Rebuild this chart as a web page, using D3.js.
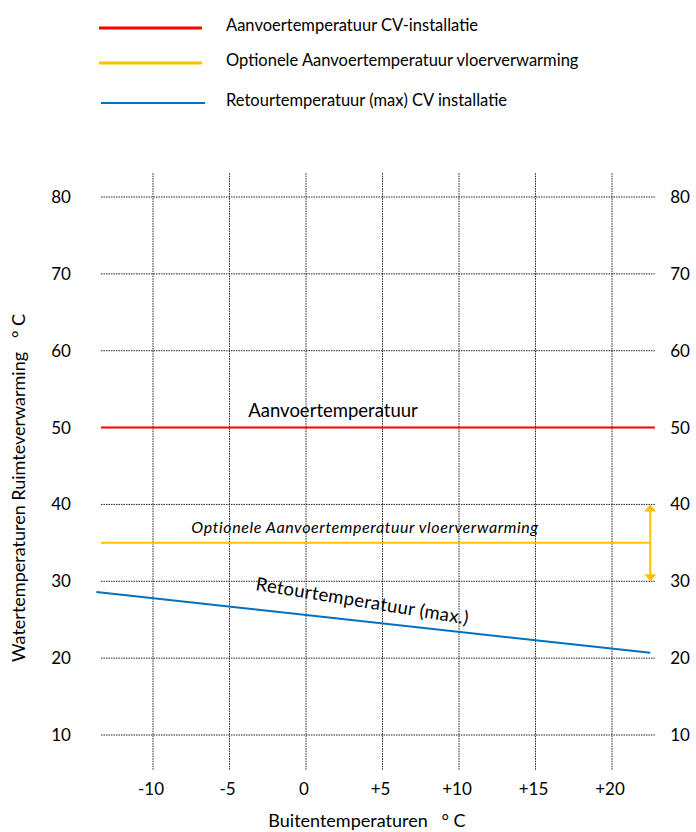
<!DOCTYPE html>
<html><head><meta charset="utf-8">
<script src="https://cdn.jsdelivr.net/npm/d3@7"></script>
<style>body{margin:0;background:#fff;} svg{display:block;font-family:Lato,"Noto Sans",sans-serif;}</style>
</head><body>
<svg id="c" width="696" height="832"></svg>
<script>
const xTicks = [-10, -5, 0, 5, 10, 15, 20];
const xTickLabels = ["-10", "-5", "0", "+5", "+10", "+15", "+20"];
const yTicks = [10, 20, 30, 40, 50, 60, 70, 80];
const xExtent = [-13.4, 22.8];
const yExtent = [5.4, 83.1];
const aanvoerX = [-13.4, 22.8];
const aanvoerY = [50, 50];
const vloerX = [-13.4, 22.5];
const vloerY = [35, 35];
const vloerRange = [30, 40];
const retourX = [-13.7, 22.5];
const retourY = [28.6, 20.7];
const legendLabels = ["Aanvoertemperatuur CV-installatie", "Optionele Aanvoertemperatuur vloerverwarming", "Retourtemperatuur (max) CV installatie"];
const legendColors = ["#ff0000", "#ffc000", "#0070c0"];

const svg = d3.select("#c");
const x = d3.scaleLinear().domain([-10, 20]).range([153, 612]);
const y = d3.scaleLinear().domain([10, 80]).range([735, 197]);

// grid
const g = svg.append("g");
g.selectAll(".vg").data(xTicks).join("line")
  .attr("x1", d => x(d)).attr("x2", d => x(d))
  .attr("y1", y(yExtent[1])).attr("y2", y(yExtent[0]))
  .attr("stroke", "#222").attr("stroke-width", 1).attr("stroke-dasharray", "1.5,1");
g.selectAll(".hg").data(yTicks).join("line")
  .attr("x1", x(xExtent[0])).attr("x2", x(xExtent[1]))
  .attr("y1", d => y(d)).attr("y2", d => y(d))
  .attr("stroke", "#222").attr("stroke-width", 1).attr("stroke-dasharray", "1.5,1");

// tick labels
svg.selectAll(".yl").data(yTicks).join("text")
  .attr("x", 61).attr("y", d => y(d)).attr("dy", "0.35em")
  .attr("text-anchor", "middle").attr("font-size", 17).text(d => d);
svg.selectAll(".yr").data(yTicks).join("text")
  .attr("x", 680).attr("y", d => y(d)).attr("dy", "0.35em")
  .attr("text-anchor", "middle").attr("font-size", 17).text(d => d);
svg.selectAll(".xl").data(xTicks).join("text")
  .attr("x", d => x(d) - 2).attr("y", 795)
  .attr("text-anchor", "middle").attr("font-size", 17).text((d, i) => xTickLabels[i]);

svg.append("text").attr("x", 367).attr("y", 827).attr("text-anchor", "middle")
  .attr("font-size", 18).attr("xml:space", "preserve").text("Buitentemperaturen   ° C");
svg.append("text").attr("transform", "translate(25,488) rotate(-90)").attr("text-anchor", "middle")
  .attr("font-size", 18).attr("xml:space", "preserve").text("Watertemperaturen Ruimteverwarming   ° C");

const line = d3.line().x(d => x(d[0])).y(d => y(d[1]));
svg.append("path").attr("d", line(aanvoerX.map((v, i) => [v, aanvoerY[i]])))
  .attr("stroke", legendColors[0]).attr("stroke-width", 2).attr("fill", "none");
svg.append("path").attr("d", line(vloerX.map((v, i) => [v, vloerY[i]])))
  .attr("stroke", legendColors[1]).attr("stroke-width", 2).attr("fill", "none");
svg.append("path").attr("d", line(retourX.map((v, i) => [v, retourY[i]])))
  .attr("stroke", legendColors[2]).attr("stroke-width", 2).attr("fill", "none");

// arrow
const ax = x(vloerX[1]);
const yTop = y(vloerRange[1]), yBot = y(vloerRange[0]);
svg.append("line").attr("x1", ax).attr("x2", ax).attr("y1", yTop + 4).attr("y2", yBot - 4)
  .attr("stroke", legendColors[1]).attr("stroke-width", 2);
svg.append("path").attr("d", `M${ax},${yTop} L${ax-6},${yTop+7} L${ax+6},${yTop+7} Z`).attr("fill", legendColors[1]);
svg.append("path").attr("d", `M${ax},${yBot} L${ax-6},${yBot-7} L${ax+6},${yBot-7} Z`).attr("fill", legendColors[1]);

// annotations
svg.append("text").attr("x", 333).attr("y", 417).attr("text-anchor", "middle").attr("font-size", 18.5).text("Aanvoertemperatuur");
svg.append("text").attr("x", 365).attr("y", 533).attr("text-anchor", "middle").attr("font-size", 16).attr("letter-spacing", 0.6).attr("font-style", "italic").text("Optionele Aanvoertemperatuur vloerverwarming");
const ang = Math.atan2(y(retourY[1]) - y(retourY[0]), x(retourX[1]) - x(retourX[0])) * 180 / Math.PI;
svg.append("text").attr("transform", `translate(255,590) rotate(${ang + 3})`).attr("font-size", 18.5).attr("letter-spacing", 0.3).text("Retourtemperatuur (max.)");

// legend
const ly = [28, 63, 103];
const lg = svg.selectAll(".lg").data(legendLabels).join("g");
lg.append("line").attr("x1", (d, i) => i === 2 ? 101 : 99).attr("x2", (d, i) => i === 2 ? 205 : 202)
  .attr("y1", (d, i) => ly[i]).attr("y2", (d, i) => ly[i])
  .attr("stroke", (d, i) => legendColors[i]).attr("stroke-width", (d, i) => i === 2 ? 2 : 3);
lg.append("text").attr("x", 226).attr("y", (d, i) => ly[i] - 3).attr("dy", "0.35em")
  .attr("font-size", 16.5).text(d => d);
</script>
</body></html>
